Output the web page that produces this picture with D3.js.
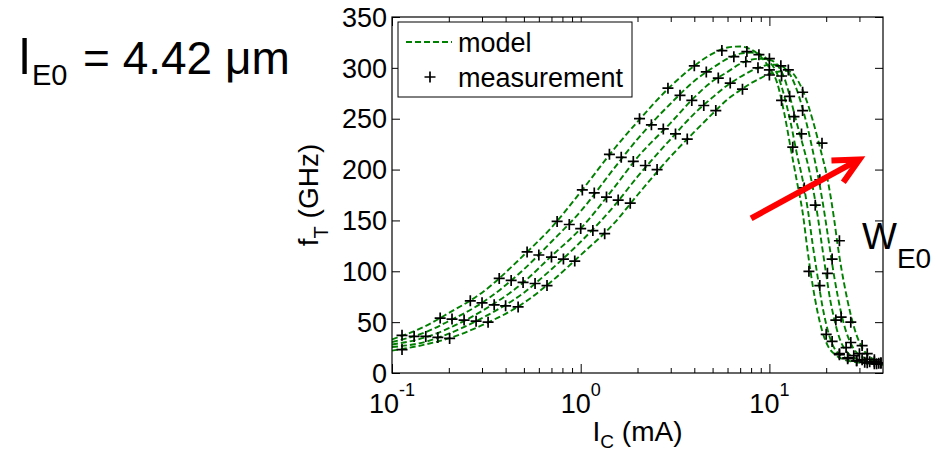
<!DOCTYPE html>
<html><head><meta charset="utf-8">
<script src="https://cdn.jsdelivr.net/npm/d3@7"></script>
<style>
body{margin:0;background:#fff}
svg{display:block}
text{font-family:Arial,"Liberation Sans",Helvetica,sans-serif;fill:#000}
</style>
</head><body>
<svg id="c" width="937" height="454"></svg>
<script>
// ---------------- data ----------------
const modelI = [0.1,0.15,0.2,0.3,0.5,0.7,1,1.5,2,3,4,5,6,7,8,9,10,11,12,13,14,15,16,17,18,19,20,21,22,23,24,25,27,29,31,34,37,40];
const model0 = [33,46,59,79,116,143,178,220,247,282,302,314,320,321,318,311,300,285,255,220,188,158,118,85,60,42,30,23,19,16,14.5,13,11.5,10.5,10,9.3,8.7,8];
const model1 = [30.4,40,51,69,102,129,159,201,230,265,287,300,309,314,315,313,306,294,272,245,215,190,160,125,95,68,48,34,25,20,17.5,15.5,13,11.8,11,10,9.2,8.5];
const model2 = [28,35,44,61,89.5,115,142,182,212,246,271,287,296,304,308,309,308,303,290,268,245,225,205,182,155,125,97,72,54,40,30,24,17,14,12.5,11,9.8,8.8];
const model3 = [25.5,30.6,38.7,54,79,102,129,164,193,230,255,271,283,291,297,301,303,303,300,292,278,260,240,218,196,172,146,120,96,76,59,46,29,20,16,12.5,10.5,9];
const model4 = [22,28,34,47,69,90,116,147,175,213,237,255,269,278,285,290,294,296,297,296,289,278,264,248,231,214,197,176,152,126,104,86,57,37,25,16,12,9.5];

const meas0I = [0.113,0.18,0.26,0.37,0.52,0.75,1.02,1.42,2.05,2.9,4.0,5.6,7.6,10,11.6,13.3,16.2,20,23.5,26,29,32,36];
const meas0F = [37,54,71,93,119,149,180,215,250,280,302,317,316,298,268,222,100,38,18,14,12,10.5,9];
const meas1I = [0.131,0.208,0.30,0.428,0.60,0.87,1.18,1.64,2.37,3.36,4.63,6.48,8.8,11.6,13.5,15.3,18.5,21.5,23.5,26,29,33,37];
const meas1F = [36,53,69,91,116,146,177,212,244,273,296,311,313,292,252,182,86,31,19,15,12,10,9];
const meas2I = [0.151,0.241,0.348,0.495,0.70,1.0,1.37,1.90,2.74,3.88,5.36,7.5,10,12.8,14.8,17.5,20.3,22.5,25.5,28,31,34,38];
const meas2F = [36,52,67,89,114,142,173,208,240,268,290,306,309,272,235,165,98,52,25,17,13,11,9.5];
const meas3I = [0.175,0.279,0.40,0.573,0.81,1.16,1.58,2.2,3.18,4.49,6.2,8.7,11.5,15,18.5,21.5,24,27,30,33,36,39];
const meas3F = [35,51,66,88,112,140,170,204,235,263,285,300,302,258,190,112,55,30,19,13.5,11,9.5];
const meas4I = [0.113,0.202,0.323,0.466,0.663,0.93,1.34,1.83,2.54,3.67,5.2,7.2,10,12.6,15,19,23.5,27,31,33,36,39];
const meas4F = [23,34,50,65,86,110,137,167,200,230,258,279,293,298,276,226,130,50,27,19,13,10];

const yTicks = [0,50,100,150,200,250,300,350];
const xMajor = [0.1,1,10];
const xMajorExp = ["-1","0","1"];
const xMinor = [0.2,0.3,0.4,0.5,0.6,0.7,0.8,0.9,2,3,4,5,6,7,8,9,20,30];
const legendLabels = ["model","measurement"];
const arrowFrom = [8.0,152];   // (mA, GHz)
const arrowTo = [30,210];

// ---------------- chart ----------------
const svg = d3.select("#c");
const L=392,R=883,T=17,B=373;
const x = d3.scaleLog().domain([0.1,40]).range([L,R]);
const y = d3.scaleLinear().domain([0,350]).range([B,T]);

svg.append("defs").append("clipPath").attr("id","clip")
  .append("rect").attr("x",L).attr("y",T).attr("width",R-L).attr("height",B-T);

const green = "#008000";
const models = [model0,model1,model2,model3,model4];
const line = d3.line().x(d=>x(d[0])).y(d=>y(d[1])).curve(d3.curveMonotoneX);
const gPlot = svg.append("g").attr("clip-path","url(#clip)");
models.forEach(m=>{
  gPlot.append("path").attr("d",line(modelI.map((v,i)=>[v,m[i]])))
    .attr("fill","none").attr("stroke",green).attr("stroke-width",1.9)
    .attr("stroke-dasharray","6,3");
});
const meas = [[meas0I,meas0F],[meas1I,meas1F],[meas2I,meas2F],[meas3I,meas3F],[meas4I,meas4F]];
const cross = "M-5.5,0H5.5M0,-5.5V5.5";
meas.forEach(([mi,mf])=>{
  gPlot.selectAll(null).data(mi.map((v,i)=>[v,mf[i]])).enter().append("path")
    .attr("d",cross).attr("transform",d=>`translate(${x(d[0])},${y(d[1])})`)
    .attr("stroke","#000").attr("stroke-width",1.7).attr("fill","none");
});

// axes ticks
function ax(gen, tx, ty){
  const g = svg.append("g").attr("transform",`translate(${tx},${ty})`).call(gen);
  g.select(".domain").remove();
  g.selectAll("text").remove();
  g.selectAll("line").attr("stroke","#000").attr("stroke-width",1);
  return g;
}
ax(d3.axisBottom(x).tickValues(xMajor).tickSize(-9),0,B);
ax(d3.axisBottom(x).tickValues(xMinor).tickSize(-5),0,B);
ax(d3.axisTop(x).tickValues(xMajor).tickSize(-9),0,T);
ax(d3.axisTop(x).tickValues(xMinor).tickSize(-5),0,T);
ax(d3.axisLeft(y).tickValues(yTicks).tickSize(-8),L,0);
ax(d3.axisRight(y).tickValues(yTicks).tickSize(-8),R,0);

svg.append("rect").attr("x",L).attr("y",T).attr("width",R-L).attr("height",B-T)
  .attr("fill","none").attr("stroke","#000").attr("stroke-width",1.2);

// tick labels
svg.selectAll(null).data(yTicks).enter().append("text")
  .attr("x",L-5).attr("y",d=>y(d)).attr("dy","0.36em")
  .attr("text-anchor","end").style("font-size","27px").text(d=>d);
const xl = svg.selectAll(null).data(xMajor).enter().append("text")
  .attr("x",d=>x(d)).attr("y",413).attr("text-anchor","middle").style("font-size","27px");
xl.append("tspan").text("10");
xl.append("tspan").attr("dy",-17).style("font-size","18px").text((d,i)=>xMajorExp[i]);

// axis labels
const xt = svg.append("text").attr("x",(L+R)/2).attr("y",441).attr("text-anchor","middle").style("font-size","28px");
xt.append("tspan").text("I");
xt.append("tspan").attr("dy",7).style("font-size","19px").text("C");
xt.append("tspan").attr("dy",-7).text(" (mA)");

const yt = svg.append("text").attr("transform",`translate(318,${(T+B)/2}) rotate(-90)`)
  .attr("text-anchor","middle").style("font-size","28px");
yt.append("tspan").text("f");
yt.append("tspan").attr("dy",10).style("font-size","20px").text("T");
yt.append("tspan").attr("dy",-10).text(" (GHz)");

// legend
svg.append("rect").attr("x",398).attr("y",22).attr("width",234).attr("height",75)
  .attr("fill","#fff").attr("stroke","#000").attr("stroke-width",1);
svg.append("line").attr("x1",406).attr("x2",452).attr("y1",42).attr("y2",42)
  .attr("stroke",green).attr("stroke-width",1.9).attr("stroke-dasharray","6,3");
svg.append("path").attr("d",cross).attr("transform","translate(430,77)")
  .attr("stroke","#000").attr("stroke-width",1.7);
svg.append("text").attr("x",458).attr("y",52).style("font-size","27px").text(legendLabels[0]);
svg.append("text").attr("x",458).attr("y",87).style("font-size","27px").text(legendLabels[1]);

// red arrow annotation
const ax0=x(arrowFrom[0]), ay0=y(arrowFrom[1]), ax1=x(arrowTo[0]), ay1=y(arrowTo[1]);
const ang = Math.atan2(ay0-ay1, ax0-ax1);
const hl = 28, ha = 0.46;
svg.append("line").attr("x1",ax0).attr("y1",ay0).attr("x2",ax1-2).attr("y2",ay1+1)
  .attr("stroke","#ff0000").attr("stroke-width",6);
svg.append("path").attr("d",`M${ax1+hl*Math.cos(ang+ha)},${ay1+hl*Math.sin(ang+ha)}L${ax1},${ay1}L${ax1+hl*Math.cos(ang-ha)},${ay1+hl*Math.sin(ang-ha)}`)
  .attr("fill","none").attr("stroke","#ff0000").attr("stroke-width",6).attr("stroke-linejoin","miter");

// annotations text
const w = svg.append("text").attr("x",862).attr("y",249).style("font-size","37px");
w.append("tspan").text("W");
w.append("tspan").attr("dy",19).style("font-size","28px").text("E0");

const le = svg.append("text").attr("x",19).attr("y",74).style("font-size","46px");
le.append("tspan").style("font-size","50px").text("l");
le.append("tspan").attr("x",32).attr("dy",11).style("font-size","29px").text("E0");
le.append("tspan").attr("x",83).attr("dy",-11).text("= 4.42 μm");
</script>
</body></html>
